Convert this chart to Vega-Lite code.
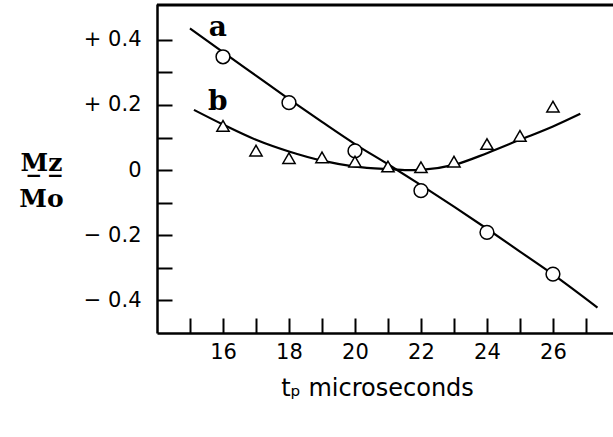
{
  "$schema": "https://vega.github.io/schema/vega-lite/v6.json",
  "autosize": "none",
  "padding": {"left": 157, "top": 4, "right": 0, "bottom": 104},
  "width": 456,
  "height": 329,
  "background": "white",
  "config": {
    "view": {"stroke": null},
    "axis": {"grid": false, "domain": true, "domainColor": "black", "domainWidth": 2.5, "tickColor": "black", "tickWidth": 2, "tickSize": -15, "labelColor": "black", "labelFont": "DejaVu Sans", "labelFontSize": 21, "titleColor": "black"}
  },
  "datasets": {
    "fitA": [
      {"t": 15, "m": 0.435}, {"t": 16, "m": 0.362}, {"t": 17, "m": 0.29}, {"t": 18, "m": 0.218},
      {"t": 19, "m": 0.148}, {"t": 20, "m": 0.08}, {"t": 21, "m": 0.018}, {"t": 22, "m": -0.046},
      {"t": 23, "m": -0.112}, {"t": 24, "m": -0.18}, {"t": 25, "m": -0.25}, {"t": 26, "m": -0.32},
      {"t": 27.35, "m": -0.422}
    ],
    "fitB": [
      {"t": 15.12, "m": 0.185}, {"t": 16, "m": 0.14}, {"t": 17, "m": 0.093}, {"t": 18, "m": 0.057},
      {"t": 19, "m": 0.029}, {"t": 20, "m": 0.011}, {"t": 21, "m": 0.003}, {"t": 21.6, "m": 0.0},
      {"t": 22, "m": 0.001}, {"t": 23, "m": 0.016}, {"t": 24, "m": 0.052}, {"t": 25, "m": 0.093},
      {"t": 26, "m": 0.134}, {"t": 26.83, "m": 0.173}
    ],
    "obsA": [
      {"t": 16, "m": 0.348}, {"t": 18, "m": 0.207}, {"t": 20, "m": 0.059},
      {"t": 22, "m": -0.063}, {"t": 24, "m": -0.191}, {"t": 26, "m": -0.319}
    ],
    "obsB": [
      {"t": 16, "m": 0.136}, {"t": 17, "m": 0.06}, {"t": 18, "m": 0.037}, {"t": 19, "m": 0.039},
      {"t": 20, "m": 0.026}, {"t": 21, "m": 0.011}, {"t": 22, "m": 0.009}, {"t": 23, "m": 0.026},
      {"t": 24, "m": 0.08}, {"t": 25, "m": 0.105}, {"t": 26, "m": 0.195}
    ],
    "labels": [
      {"t": 15.84, "m": 0.437, "label": "a"},
      {"t": 15.84, "m": 0.209, "label": "b"}
    ],
    "frameTop": [
      {"t": 14, "m": 0.507},
      {"t": 27.82, "m": 0.507}
    ]
  },
  "encoding": {
    "x": {
      "field": "t", "type": "quantitative",
      "scale": {"domain": [14, 27.82], "nice": false, "zero": false},
      "axis": {
        "values": [15, 16, 17, 18, 19, 20, 21, 22, 23, 24, 25, 26, 27],
        "labelExpr": "datum.value % 2 == 0 ? datum.label : ''",
        "labelPadding": 23,
        "labelFlush": false,
        "title": "tₚ microseconds",
        "titleFont": "DejaVu Sans",
        "titleFontSize": 24,
        "titleFontWeight": "normal",
        "titleX": 220,
        "titleY": 62,
        "titleBaseline": "alphabetic"
      }
    },
    "y": {
      "field": "m", "type": "quantitative",
      "scale": {"domain": [-0.5, 0.51], "nice": false, "zero": false},
      "axis": {
        "values": [-0.4, -0.3, -0.2, -0.1, 0, 0.1, 0.2, 0.3, 0.4],
        "labelExpr": "abs(round(datum.value*10)) % 2 == 0 ? (datum.value > 0.001 ? '+ ' + format(datum.value, '.1f') : (datum.value < -0.001 ? '− ' + format(-datum.value, '.1f') : '0')) : ''",
        "labelPadding": 31,
        "labelFlush": false,
        "title": ["M̲z̲", "Mo"],
        "titleFont": "DejaVu Serif",
        "titleFontSize": 25,
        "titleFontWeight": "bold",
        "titleAngle": 0,
        "titleAlign": "center",
        "titleBaseline": "alphabetic",
        "titleLineHeight": 36,
        "titleX": -116,
        "titleY": 166
      }
    }
  },
  "layer": [
    {
      "data": {"name": "frameTop"},
      "mark": {"type": "line", "color": "black", "strokeWidth": 3}
    },
    {
      "data": {"name": "fitA"},
      "mark": {"type": "line", "color": "black", "strokeWidth": 2.2, "interpolate": "monotone"}
    },
    {
      "data": {"name": "fitB"},
      "mark": {"type": "line", "color": "black", "strokeWidth": 2.2, "interpolate": "monotone"}
    },
    {
      "data": {"name": "obsA"},
      "mark": {"type": "point", "shape": "circle", "size": 190, "fill": "white", "filled": true, "stroke": "black", "strokeWidth": 1.5, "opacity": 1}
    },
    {
      "data": {"name": "obsB"},
      "mark": {"type": "point", "shape": "triangle-up", "size": 150, "fill": "white", "filled": true, "stroke": "black", "strokeWidth": 1.5, "opacity": 1}
    },
    {
      "data": {"name": "labels"},
      "mark": {"type": "text", "font": "DejaVu Serif", "fontSize": 28, "fontWeight": "bold", "color": "black", "align": "center", "baseline": "middle"},
      "encoding": {"text": {"field": "label"}}
    }
  ]
}
